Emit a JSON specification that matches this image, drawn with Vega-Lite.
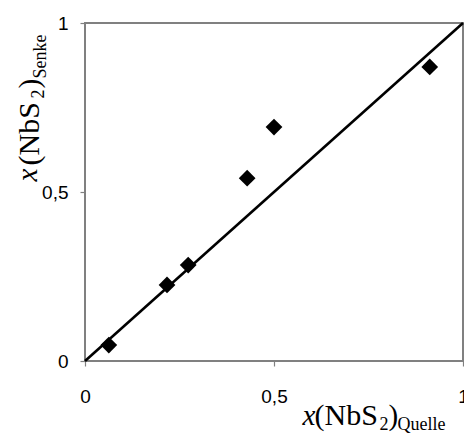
{
  "$schema": "https://vega.github.io/schema/vega-lite/v6.json",
  "width": 378,
  "height": 338,
  "autosize": "none",
  "padding": {"left": 85, "top": 23, "right": 1, "bottom": 74},
  "datasets": {
    "pts": [
      {"quelle": 0.063, "senke": 0.047},
      {"quelle": 0.217, "senke": 0.225},
      {"quelle": 0.273, "senke": 0.284},
      {"quelle": 0.429, "senke": 0.541},
      {"quelle": 0.500, "senke": 0.692},
      {"quelle": 0.912, "senke": 0.870}
    ],
    "diag": [
      {"quelle": 0, "senke": 0},
      {"quelle": 1, "senke": 1}
    ]
  },
  "config": {
    "view": {"stroke": "#808080", "strokeWidth": 2},
    "axis": {
      "grid": false,
      "domain": false,
      "labelFont": "Liberation Sans",
      "labelFontSize": 19,
      "labelColor": "#000000",
      "labelFlush": false,
      "labelBound": false,
      "tickColor": "#808080",
      "tickSize": 5,
      "tickWidth": 1.2,
      "titleFont": "Liberation Serif",
      "titleColor": "#000000",
      "titleFontWeight": "normal",
      "titleFontSize": 29,
      "titleAlign": "left",
      "titleBaseline": "alphabetic"
    }
  },
  "resolve": {"axis": {"x": "independent", "y": "independent"}},
  "layer": [
    {
      "data": {"name": "diag"},
      "mark": {"type": "line", "color": "#000000", "strokeWidth": 2.6},
      "encoding": {
        "x": {"field": "quelle", "type": "quantitative", "scale": {"domain": [0, 1], "nice": false},
          "axis": {"orient": "bottom", "values": [0, 0.5, 1], "format": ".1~f", "labelExpr": "replace(datum.label, '.', ',')", "labelPadding": 21,
            "title": "x", "titleFontStyle": "italic", "titleX": 217, "titleY": 63}},
        "y": {"field": "senke", "type": "quantitative", "scale": {"domain": [0, 1], "nice": false},
          "axis": {"orient": "left", "values": [0, 0.5, 1], "format": ".1~f", "labelExpr": "replace(datum.label, '.', ',')", "labelPadding": 12,
            "title": "x", "titleFontStyle": "italic", "titleX": -49, "titleY": 158}}
      }
    },
    {
      "data": {"name": "pts"},
      "mark": {"type": "point", "shape": "diamond", "filled": true, "color": "#000000", "size": 280, "opacity": 1},
      "encoding": {
        "x": {"field": "quelle", "type": "quantitative", "scale": {"domain": [0, 1], "nice": false},
          "axis": {"orient": "bottom", "labels": false, "ticks": false, "title": "(NbS", "titleFontSize": 30, "titleX": 229, "titleY": 63}},
        "y": {"field": "senke", "type": "quantitative", "scale": {"domain": [0, 1], "nice": false},
          "axis": {"orient": "left", "labels": false, "ticks": false, "title": "(NbS", "titleFontSize": 30, "titleX": -47, "titleY": 142}}
      }
    },
    {
      "data": {"name": "pts"},
      "mark": {"type": "point", "opacity": 0},
      "encoding": {
        "x": {"field": "quelle", "type": "quantitative", "scale": {"domain": [0, 1], "nice": false},
          "axis": {"orient": "bottom", "labels": false, "ticks": false, "title": "2", "titleFontSize": 18, "titleX": 294, "titleY": 68}},
        "y": {"field": "senke", "type": "quantitative", "scale": {"domain": [0, 1], "nice": false},
          "axis": {"orient": "left", "labels": false, "ticks": false, "title": "2", "titleFontSize": 18, "titleX": -42, "titleY": 75}}
      }
    },
    {
      "data": {"name": "pts"},
      "mark": {"type": "point", "opacity": 0},
      "encoding": {
        "x": {"field": "quelle", "type": "quantitative", "scale": {"domain": [0, 1], "nice": false},
          "axis": {"orient": "bottom", "labels": false, "ticks": false, "title": ")", "titleX": 303, "titleY": 63}},
        "y": {"field": "senke", "type": "quantitative", "scale": {"domain": [0, 1], "nice": false},
          "axis": {"orient": "left", "labels": false, "ticks": false, "title": ")", "titleX": -47, "titleY": 65}}
      }
    },
    {
      "data": {"name": "pts"},
      "mark": {"type": "point", "opacity": 0},
      "encoding": {
        "x": {"field": "quelle", "type": "quantitative", "scale": {"domain": [0, 1], "nice": false},
          "axis": {"orient": "bottom", "labels": false, "ticks": false, "title": "Quelle", "titleFontSize": 18, "titleX": 312, "titleY": 68}},
        "y": {"field": "senke", "type": "quantitative", "scale": {"domain": [0, 1], "nice": false},
          "axis": {"orient": "left", "labels": false, "ticks": false, "title": "Senke", "titleFontSize": 18, "titleX": -40, "titleY": 55}}
      }
    }
  ]
}
